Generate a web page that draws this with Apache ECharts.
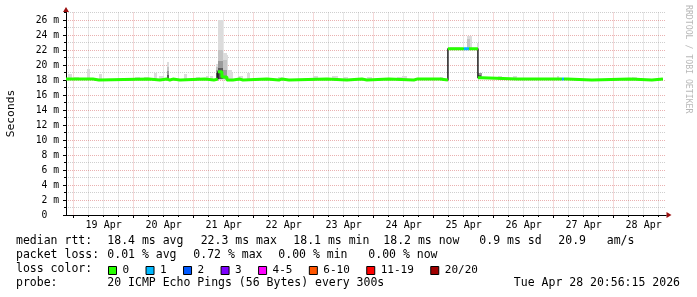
<!DOCTYPE html>
<html><head><meta charset="utf-8">
<script src="https://cdn.jsdelivr.net/npm/echarts@6/dist/echarts.min.js"></script>
<style>html,body{margin:0;padding:0;background:#fff}#c{width:697px;height:297px}</style>
</head><body><div id="c"></div>
<script>
const FONT = '"DejaVu Sans Mono", "Liberation Mono", monospace';

// ---- time axis (hours since 18 Apr 00:00) ----
const startHour = 20.94;   // Apr 18 20:56:15
const endHour = 260.94;    // Apr 28 20:56:15
const dayLineHours = [24, 48, 72, 96, 120, 144, 168, 192, 216, 240];
const quarterLineHours = [30, 36, 42, 54, 60, 66, 78, 84, 90, 102, 108, 114, 126, 132, 138,
  150, 156, 162, 174, 180, 186, 198, 204, 210, 222, 228, 234, 246, 252, 258];
const dayLabelHours = [36, 60, 84, 108, 132, 156, 180, 204, 228, 252];
const dayLabels = ['19 Apr', '20 Apr', '21 Apr', '22 Apr', '23 Apr', '24 Apr', '25 Apr', '26 Apr', '27 Apr', '28 Apr'];

// ---- y axis (milliseconds) ----
const yMajorTicks = [0, 2, 4, 6, 8, 10, 12, 14, 16, 18, 20, 22, 24, 26];
const yMajorLabels = ['0  ', '2 m', '4 m', '6 m', '8 m', '10 m', '12 m', '14 m', '16 m', '18 m', '20 m', '22 m', '24 m', '26 m'];
const yMinorTicks = [1, 3, 5, 7, 9, 11, 13, 15, 17, 19, 21, 23, 25, 27];

// ---- median rtt, piecewise segments ----
const medianStart = [20.94, 31.7, 34.1, 54.1, 58.5, 61.3, 62.5, 63.7, 66.5, 76.5,
  80.1, 81.7, 83.3, 85.3, 87.7, 90.5, 91.7, 101.3, 106.1, 107.3,
  110.1, 125.3, 133.3, 139.3, 141.3, 150.1, 160.1, 161.3, 162.1, 170.5,
  173.7, 180.1, 182.1, 185.7, 187.3, 201.3, 202.1, 219.3, 220.1, 221.3,
  231.3, 246.5, 255.3];
const medianEnd = 259.7;
const medianValue = [18.12, 18.0, 18.12, 18.0, 18.12, 18.0, 18.12, 18.0, 18.12, 18.0,
  18.12, 19.1, 18.4, 18.0, 18.12, 18.0, 18.12, 18.0, 18.12, 18.0,
  18.12, 18.0, 18.12, 18.0, 18.12, 18.0, 18.12, 18.0, 18.12, 18.0,
  22.18, 22.18, 22.18, 18.3, 18.12, 18.0, 18.12, 18.12, 18.12, 18.0,
  18.12, 18.0, 18.12];
const medianLoss = [0, 0, 0, 0, 0, 0, 0, 0, 0, 0,
  0, 0, 0, 0, 0, 0, 0, 0, 0, 0,
  0, 0, 0, 0, 0, 0, 0, 0, 0, 0,
  0, 1, 0, 0, 0, 0, 0, 1, 0, 0,
  0, 0, 0];

// ---- smoke (ping spread): [from hour, to hour, low ms, high ms] ----
const smokeOuter = [
  [21.9, 23.3, 18.0, 18.8], [24.0, 26.1, 18.0, 18.45], [29.3, 30.5, 18.0, 19.5],
  [34.1, 35.3, 18.0, 18.75], [48.5, 50.5, 18.0, 18.45], [52.1, 54.1, 18.0, 18.45],
  [56.1, 57.3, 18.0, 19.0], [58.1, 60.1, 18.0, 18.6], [61.3, 62.1, 18.0, 20.35],
  [68.1, 69.3, 18.0, 18.8], [72.9, 74.5, 18.0, 18.45], [76.9, 78.1, 18.0, 18.5],
  [78.5, 79.7, 18.0, 18.6], [80.9, 81.9, 18.0, 20.2], [81.9, 83.6, 18.0, 26.0],
  [83.6, 85.2, 18.0, 21.6], [85.2, 85.9, 18.0, 21.3], [85.9, 87.2, 18.0, 19.4],
  [87.2, 87.7, 18.0, 18.9], [89.7, 91.7, 18.0, 18.6], [93.3, 94.5, 18.0, 18.9],
  [105.7, 107.3, 18.0, 18.45], [119.7, 121.7, 18.0, 18.6], [127.3, 129.7, 18.0, 18.5],
  [131.7, 133.7, 18.0, 18.45], [141.3, 143.3, 18.0, 18.45], [153.3, 155.3, 18.0, 18.45],
  [155.3, 157.3, 18.0, 18.5], [170.5, 171.7, 18.0, 18.45], [174.5, 178.5, 22.0, 22.45],
  [181.2, 183.2, 22.0, 23.9], [185.2, 186.1, 22.0, 23.0], [193.7, 195.3, 18.0, 18.6],
  [199.7, 201.3, 18.0, 18.6], [217.3, 218.1, 18.0, 18.6], [247.3, 249.3, 18.0, 18.45]
];
const smokeMid = [
  [61.3, 62.1, 18.1, 19.8], [80.9, 81.9, 18.1, 19.8], [81.9, 83.6, 18.1, 22.0],
  [83.6, 85.2, 18.1, 20.7], [181.2, 182.4, 22.1, 23.5], [185.9, 187.2, 18.1, 19.0]
];
const smokeInner = [
  [61.3, 62.1, 18.1, 19.2], [80.9, 81.9, 18.1, 19.3], [81.9, 83.6, 18.1, 20.6],
  [83.6, 85.2, 18.1, 19.4], [185.9, 187.2, 18.1, 18.9]
];
const smokeCore = [
  [61.3, 62.1, 18.1, 18.7], [80.9, 81.9, 18.1, 18.9], [81.9, 83.6, 18.1, 19.6],
  [185.9, 187.0, 18.1, 18.7]
];

// ---- loss legend ----
const lossNames = ['0', '1', '2', '3', '4-5', '6-10', '11-19', '20/20'];
const lossColors = ['#26ff00', '#00b8ff', '#0059ff', '#7e00ff', '#ff00ff', '#ff5500', '#ff0000', '#a00000'];

// ---- statistics text ----
const rttStats = ['18.4 ms avg', '22.3 ms max', '18.1 ms min', '18.2 ms now', '0.9 ms sd', '20.9   am/s'];
const lossStats = ['0.01 % avg', '0.72 % max', '0.00 % min', '0.00 % now'];
const probeText = '20 ICMP Echo Pings (56 Bytes) every 300s';
const stampText = 'Tue Apr 28 20:56:15 2026';

// layout
const rttX = [107.3, 200.7, 293.3, 383.3, 479.3, 558.3];
const lossX = [107.3, 193.3, 278.3, 368.3];

function buildSteps(keep, breakThreshold) {
  const pts = [];
  for (let i = 0; i < medianStart.length; i++) {
    const t0 = medianStart[i];
    const t1 = i + 1 < medianStart.length ? medianStart[i + 1] : medianEnd;
    const v = medianValue[i];
    const last = pts[pts.length - 1];
    if (!keep(i)) {
      if (last && last[1] !== '-') pts.push([t0, '-']);
      continue;
    }
    if (last && last[1] !== '-' && Math.abs(last[1] - v) > breakThreshold) pts.push([t0, '-']);
    pts.push([t0, v], [t1, v]);
  }
  return pts;
}

function smokeSeries(name, data, color) {
  return {
    type: 'custom', name: name, data: data, xAxisIndex: 0, yAxisIndex: 0, z: 2,
    silent: true, animation: false,
    encode: { x: [0, 1], y: [2, 3] },
    renderItem: function (params, api) {
      const a = api.coord([api.value(0), api.value(3)]);
      const b = api.coord([api.value(1), api.value(2)]);
      const x0 = Math.round(a[0]), x1 = Math.round(b[0]);
      const y0 = Math.round(a[1]), y1 = Math.round(b[1]);
      return { type: 'rect', shape: { x: x0, y: y0, width: Math.max(1, x1 - x0), height: y1 - y0 }, style: { fill: color } };
    }
  };
}

const series = [
  smokeSeries('smoke-outer', smokeOuter, '#dcdcdc'),
  smokeSeries('smoke-mid', smokeMid, '#c4c4c4'),
  smokeSeries('smoke-inner', smokeInner, '#9a9a9a'),
  smokeSeries('smoke-core', smokeCore, '#5a5a5a'),
  {
    type: 'line', name: 'median', data: buildSteps(() => true, Infinity),
    symbol: 'none', showSymbol: false, animation: false, silent: true, z: 3,
    lineStyle: { color: '#151515', width: 1.4 }
  }
];
lossNames.forEach((n, b) => {
  series.push({
    type: 'line', name: n, data: buildSteps(i => medianLoss[i] === b, 0.9),
    symbol: 'none', showSymbol: false, animation: false, silent: true, z: 4,
    connectNulls: false,
    itemStyle: { color: lossColors[b] },
    lineStyle: { color: lossColors[b], width: 3, cap: 'butt' }
  });
});

const majorGrid = { show: true, lineStyle: { color: 'rgba(200,50,50,0.38)', type: [1, 1], width: 1 } };
const minorGrid = { show: true, lineStyle: { color: 'rgba(140,140,140,0.42)', type: [1, 1], width: 1 } };

const texts = [];
function addText(str, x, y, opts) {
  texts.push(Object.assign({
    type: 'text', x: x, y: y, silent: true,
    style: { text: str, font: '11.5px ' + FONT, fill: '#000', align: 'left', verticalAlign: 'middle' }
  }, opts || {}));
}
addText('median rtt:', 16, 241);
rttStats.forEach((s, i) => addText(s, rttX[i], 241));
addText('packet loss:', 16, 255.3);
lossStats.forEach((s, i) => addText(s, lossX[i], 255.3));
addText('loss color:', 16, 269.5);
addText('probe:', 16, 283.5);
addText(probeText, 107.3, 283.5);
texts.push({ type: 'text', x: 680, y: 283.5, silent: true,
  style: { text: stampText, font: '11.5px ' + FONT, fill: '#000', align: 'right', verticalAlign: 'middle' } });
texts.push({ type: 'text', x: 11, y: 113.5, rotation: Math.PI / 2, silent: true,
  style: { text: 'Seconds', font: '11.3px ' + FONT, fill: '#000', align: 'center', verticalAlign: 'middle' } });
texts.push({ type: 'text', x: 688, y: 5, rotation: -Math.PI / 2, silent: true,
  style: { text: 'RRDTOOL / TOBI OETIKER', font: '8.2px ' + FONT, fill: '#b8b8b8', align: 'left', verticalAlign: 'middle' } });

const chart = echarts.init(document.getElementById('c'), null, { renderer: 'canvas' });
chart.setOption({
  animation: false,
  backgroundColor: '#ffffff',
  textStyle: { fontFamily: FONT },
  grid: { left: 66, top: 12.5, width: 600, height: 202.5 },
  legend: {
    left: 108, top: 265, padding: 0, itemWidth: 8, itemHeight: 8, itemGap: 16.4, icon: 'rect',
    selectedMode: false, data: lossNames,
    itemStyle: { borderColor: '#000', borderWidth: 1 },
    textStyle: { fontFamily: FONT, fontSize: 11, color: '#000', padding: [0, 0, 0, 1] }
  },
  xAxis: [
    {
      type: 'value', min: startHour, max: endHour, position: 'bottom', z: 2,
      axisLine: { show: true, onZero: false, lineStyle: { color: '#000', width: 1 } },
      axisTick: { show: true, customValues: dayLineHours, length: 3, lineStyle: { color: '#000' } },
      axisLabel: {
        show: true, customValues: dayLabelHours, margin: 5,
        formatter: v => dayLabels[dayLabelHours.indexOf(v)] || '',
        fontFamily: FONT, fontSize: 10, color: '#000'
      },
      splitLine: majorGrid
    },
    {
      type: 'value', min: startHour, max: endHour, position: 'bottom', z: 1,
      axisLine: { show: false },
      axisTick: { show: true, customValues: quarterLineHours, length: 2, lineStyle: { color: '#000' } },
      axisLabel: { show: false },
      splitLine: minorGrid
    },
    {
      type: 'value', min: startHour, max: endHour, position: 'bottom', z: 0,
      axisLine: { show: true, onZero: false, symbol: ['none', 'triangle'], symbolSize: [6, 5], symbolOffset: [0, 3],
        lineStyle: { color: '#9a1010', width: 1 } },
      axisTick: { show: false }, axisLabel: { show: false }, splitLine: { show: false }
    }
  ],
  yAxis: [
    {
      type: 'value', min: 0, max: 27, position: 'left', z: 2,
      axisLine: { show: true, onZero: false, lineStyle: { color: '#000', width: 1 } },
      axisTick: { show: true, customValues: yMajorTicks, length: 3, lineStyle: { color: '#000' } },
      axisLabel: {
        show: true, customValues: yMajorTicks, margin: 7,
        formatter: v => yMajorLabels[yMajorTicks.indexOf(v)] || '',
        fontFamily: FONT, fontSize: 9.7, color: '#000'
      },
      splitLine: Object.assign({ showMinLine: false }, majorGrid)
    },
    {
      type: 'value', min: 0, max: 27, position: 'left', z: 1,
      axisLine: { show: false },
      axisTick: { show: true, customValues: yMinorTicks, length: 2, lineStyle: { color: '#000' } },
      axisLabel: { show: false },
      splitLine: minorGrid
    },
    {
      type: 'value', min: 0, max: 27, position: 'left', z: 0,
      axisLine: { show: true, onZero: false, symbol: ['none', 'triangle'], symbolSize: [6, 5], symbolOffset: [0, 3],
        lineStyle: { color: '#9a1010', width: 1 } },
      axisTick: { show: false }, axisLabel: { show: false }, splitLine: { show: false }
    }
  ],
  graphic: texts,
  series: series
});
</script>
</body></html>
